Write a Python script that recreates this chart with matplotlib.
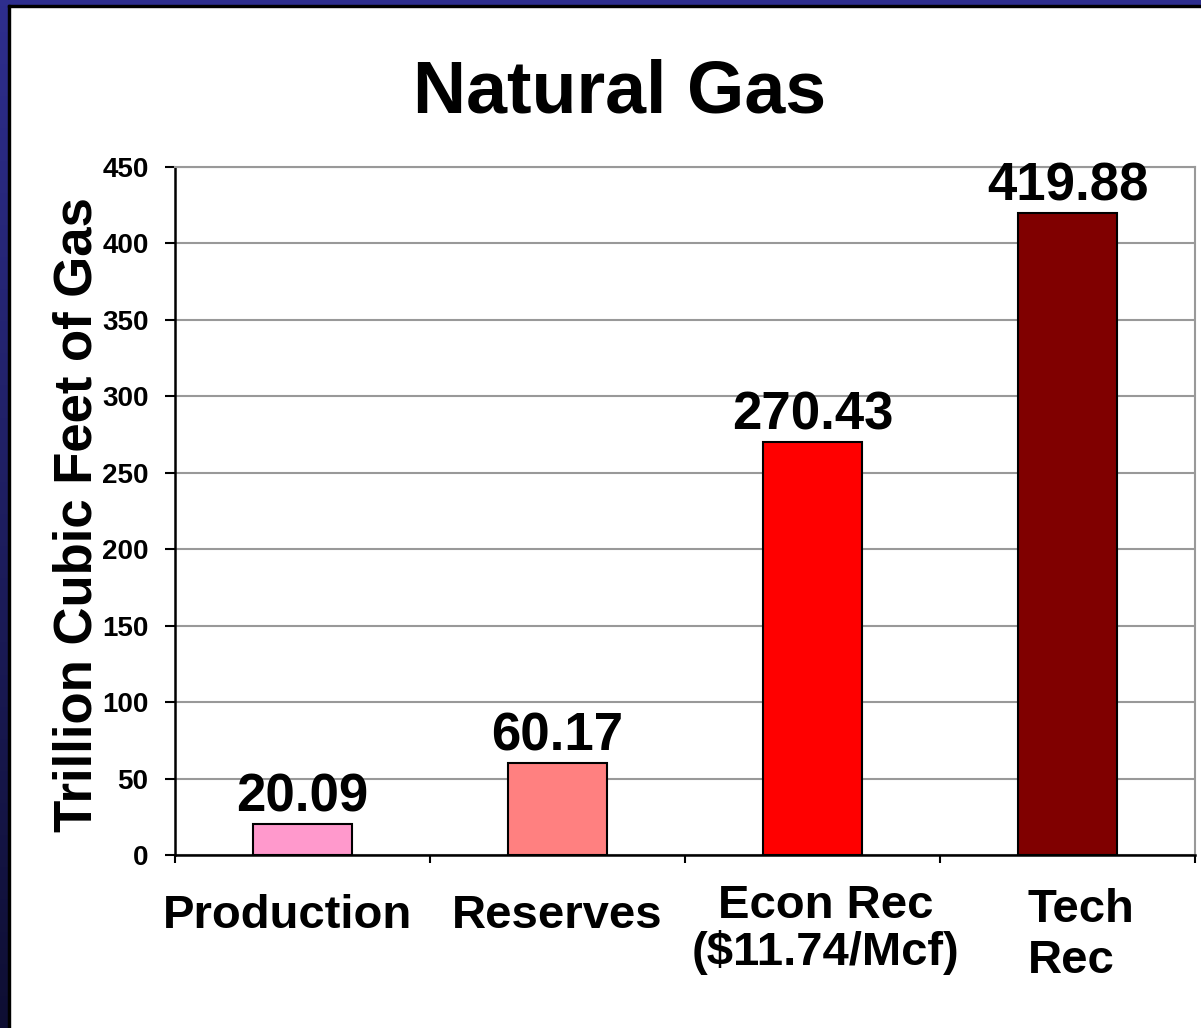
import numpy as np
import matplotlib
matplotlib.use('Agg')
import matplotlib.pyplot as plt
from matplotlib.patches import Rectangle

categories = ['Production', 'Reserves', 'Econ Rec\n($11.74/Mcf)', 'Tech\nRec']
values = [20.09, 60.17, 270.43, 419.88]
value_labels = ['20.09', '60.17', '270.43', '419.88']
colors = ['#FF99CC', '#FF8080', '#FF0000', '#800000']
yticks = [0, 50, 100, 150, 200, 250, 300, 350, 400, 450]

plt.rcParams['font.family'] = ['Liberation Sans', 'DejaVu Sans']
plt.rcParams['font.weight'] = 'bold'

W, H = 1201, 1028
fig = plt.figure(figsize=(W / 100, H / 100), dpi=100)
fig.patch.set_facecolor('white')

# slide frame: blue band on top and a gradient band on the left
grad = np.linspace(0, 1, 256).reshape(-1, 1)
cmap = matplotlib.colors.LinearSegmentedColormap.from_list('frame', ['#2E2E8E', '#0E0E33'])
fax = fig.add_axes([0, 0, 8 / W, 1])
fax.imshow(grad, aspect='auto', cmap=cmap, extent=[0, 1, 0, 1], origin='upper')
fax.axis('off')
fig.patches.append(Rectangle((0, 1 - 5 / H), 1, 5 / H, transform=fig.transFigure,
                             color='#2E2E8E', zorder=5))
fig.patches.append(Rectangle((8 / W, 1 - 7 / H), 1, 2 / H, transform=fig.transFigure,
                             color='black', zorder=5))
fig.patches.append(Rectangle((8 / W, 0), 2 / W, 1 - 5 / H, transform=fig.transFigure,
                             color='black', zorder=5))

ax = fig.add_axes([175 / W, 173 / H, 1020 / W, 688 / H])
x = np.arange(len(values))
ax.bar(x, values, width=0.39, color=colors, edgecolor='black', linewidth=1.5, zorder=3)
for xi, v, lab in zip(x, values, value_labels):
    ax.annotate(lab, (xi, v), xytext=(0, 9), textcoords='offset points',
                ha='center', va='baseline', fontsize=38, fontweight='bold')

ax.set_xlim(-0.5, len(values) - 0.5)
ax.set_ylim(0, 450)
ax.set_yticks(yticks)
ax.tick_params(axis='y', labelsize=20, length=7, width=1.5, pad=12, direction='out')
ax.set_xticks(np.arange(-0.5, len(values), 1.0))
ax.set_xticklabels([])
ax.tick_params(axis='x', length=6, width=1.5, direction='out')
ax.yaxis.grid(True, color='#999999', linewidth=1.5, zorder=0)
ax.set_axisbelow(True)
for s in ['left', 'bottom']:
    ax.spines[s].set_color('black')
    ax.spines[s].set_linewidth(1.8)
for s in ['top', 'right']:
    ax.spines[s].set_color('#999999')
    ax.spines[s].set_linewidth(1.5)

# category labels under the bars (baseline of the last line)
tr = ax.get_xaxis_transform()
label_pos = [(-0.06, -0.106, 'center', 1.05), (0.0, -0.106, 'center', 1.05),
             (0.05, -0.160, 'center', 1.05), (-0.155, -0.1715, 'left', 1.2)]
for xi, cat, (dx, yy, ha, ls) in zip(x, categories, label_pos):
    ax.text(xi + dx, yy, cat, transform=tr, ha=ha, va='baseline', fontsize=34,
            fontweight='bold', linespacing=ls, multialignment=ha)

ax.set_ylabel('Trillion Cubic Feet of Gas', fontsize=38, fontweight='bold')
ax.yaxis.set_label_coords(-0.071, 0.495)

fig.text(620 / W, 1 - 112 / H, 'Natural Gas', ha='center', va='baseline',
         fontsize=53, fontweight='bold')

plt.savefig('out.png', dpi=100)
